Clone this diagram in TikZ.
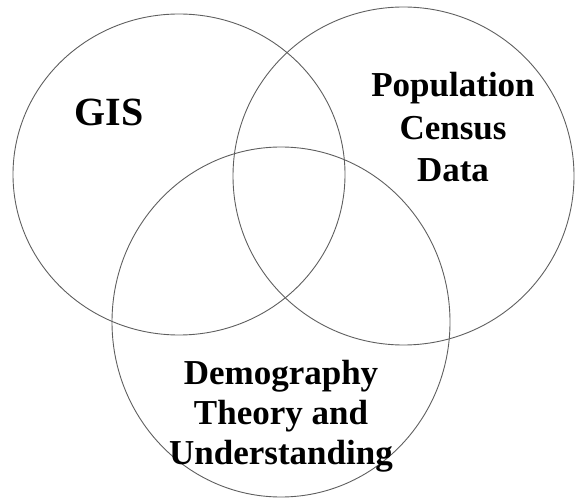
\documentclass[tikz,border=0pt]{standalone}
\usepackage{fontspec}
\setmainfont{Liberation Serif}
\usetikzlibrary{shapes.geometric}
\definecolor{ringgray}{RGB}{95,95,95}
\begin{document}
\begin{tikzpicture}[x=1pt,y=-1pt,
  ring/.style={ellipse, draw=ringgray, line width=0.9pt, inner sep=0pt, outer sep=0pt},
  lbl/.style={font=\bfseries, align=center, inner sep=0pt, anchor=base, text=black}]
\useasboundingbox (0,0) rectangle (575,502);
\node[ring, minimum width=332pt, minimum height=321pt] (gis) at (179,174.5) {};
\node[ring, minimum width=341pt, minimum height=338pt] (census) at (403.5,176) {};
\node[ring, minimum width=338pt, minimum height=350pt] (demo) at (281,322) {};
\node[lbl, font=\fontsize{40}{44}\selectfont\bfseries] (gist) at (109,126) {GIS};
\node[lbl, font=\fontsize{35}{42.5}\selectfont\bfseries] (censust) at (453,182) {Population\\Census\\Data};
\node[lbl, font=\fontsize{35}{40}\selectfont\bfseries] (demot) at (281,464) {Demography\\Theory and\\Understanding};
\end{tikzpicture}
\end{document}
